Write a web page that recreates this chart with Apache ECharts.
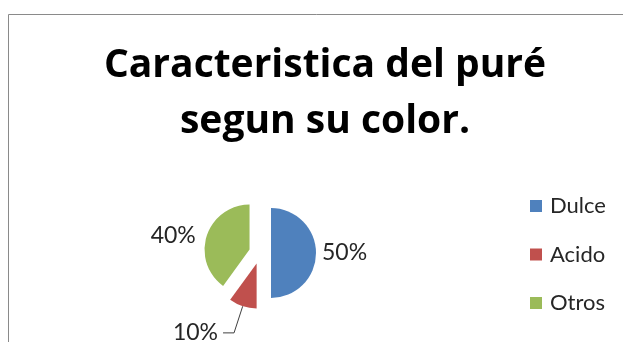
<!DOCTYPE html>
<html>
<head>
<meta charset="utf-8">
<script src="https://cdn.jsdelivr.net/npm/echarts@6/dist/echarts.min.js"></script>
<style>
  html, body { margin: 0; padding: 0; background: #ffffff; }
  #chart { width: 623px; height: 342px; }
</style>
</head>
<body>
<div id="chart"></div>
<script>
// Puree characteristics by colour
const categories = ['Dulce', 'Acido', 'Otros'];
const percentages = [50, 10, 40];
const sliceColors = ['#4F81BD', '#C0504D', '#9BBB59'];
const titleLines = ['Caracteristica del puré', 'segun su color.'];

// Per-slice label placement (leader length, horizontal leg, leader visibility)
const labelLines = [
  { length: 1, length2: 0, show: false },
  { length: 28, length2: 11, show: true },
  { length: 0, length2: 6, show: false }
];

const labelFont = 'Lato, "Noto Sans", sans-serif';
const titleFont = '"Open Sans", Lato, sans-serif';

const data = categories.map((name, i) => ({
  name: name,
  value: percentages[i],
  selected: true,
  itemStyle: { color: sliceColors[i] },
  select: { itemStyle: { color: sliceColors[i], borderWidth: 0 } },
  label: i === 1 ? { offset: [0, -6] } : {},
  labelLine: {
    show: labelLines[i].show,
    length: labelLines[i].length,
    length2: labelLines[i].length2,
    lineStyle: { color: '#404040', width: 1 }
  }
}));

const chart = echarts.init(document.getElementById('chart'), null, { renderer: 'canvas' });

chart.setOption({
  backgroundColor: '#ffffff',
  animation: false,
  graphic: [{
    type: 'rect',
    shape: { x: 8.5, y: 14.5, width: 700, height: 400 },
    style: { fill: 'none', stroke: '#8a8a8a', lineWidth: 1 },
    silent: true
  }],
  title: {
    text: titleLines.join('\n'),
    left: 320,
    top: 33,
    textAlign: 'center',
    textStyle: {
      fontFamily: titleFont,
      fontWeight: 'bold',
      fontSize: 39,
      lineHeight: 56,
      color: '#000000'
    }
  },
  legend: {
    orient: 'vertical',
    left: 525,
    top: 189,
    itemWidth: 12,
    itemHeight: 12,
    itemGap: 24.5,
    icon: 'rect',
    selectedMode: false,
    data: categories,
    textStyle: {
      fontFamily: labelFont,
      fontSize: 22,
      lineHeight: 24,
      color: '#262626',
      padding: [0, 0, 0, 3]
    }
  },
  series: [{
    type: 'pie',
    center: [260, 253],
    radius: 45,
    startAngle: 90,
    clockwise: true,
    selectedMode: 'multiple',
    selectedOffset: 11,
    avoidLabelOverlap: false,
    emphasis: { disabled: true },
    label: {
      show: true,
      position: 'outside',
      formatter: '{d}%',
      fontFamily: labelFont,
      fontSize: 23,
      color: '#262626',
      distanceToLabelLine: 5
    },
    data: data
  }]
});
</script>
</body>
</html>
